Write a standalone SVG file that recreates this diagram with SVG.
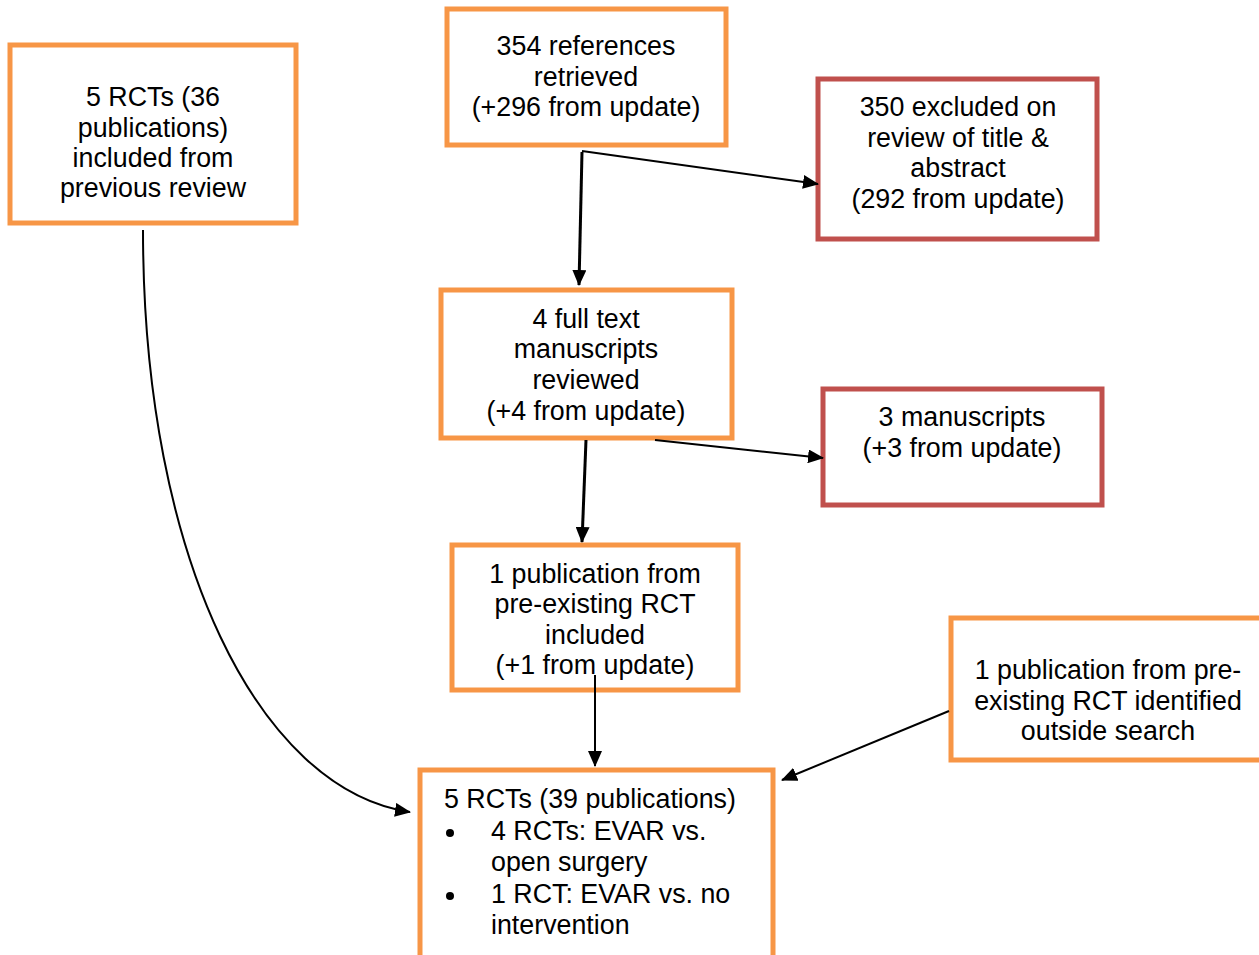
<svg xmlns="http://www.w3.org/2000/svg" width="1259" height="955" viewBox="0 0 1259 955">
<style>
.o{fill:#fff;stroke:#F79646;stroke-width:5}
.r{fill:#fff;stroke:#C0504D;stroke-width:5}
text{font-family:"Liberation Sans",Arial,sans-serif;font-size:26.8px;fill:#000}
.c{text-anchor:middle}
.ln{fill:none;stroke:#000;stroke-width:2}
.tk{stroke-width:3}
</style>
<defs>
<marker id="ah" markerUnits="userSpaceOnUse" markerWidth="16" markerHeight="14" refX="15" refY="7" orient="auto">
<path d="M0,0 L16,7 L0,14 Z" fill="#000"/>
</marker>
</defs>
<rect width="1259" height="955" fill="#fff"/>
<g id="n-prev">
<rect class="o" x="10" y="45" width="286" height="178"/>
<text class="c" x="153" y="106">5 RCTs (36</text>
<text class="c" x="153" y="137">publications)</text>
<text class="c" x="153" y="167">included from</text>
<text class="c" x="153" y="197">previous review</text>
</g>
<g id="n-refs">
<rect class="o" x="447" y="9" width="279" height="136"/>
<text class="c" x="586" y="55">354 references</text>
<text class="c" x="586" y="86">retrieved</text>
<text class="c" x="586" y="116">(+296 from update)</text>
</g>
<g id="n-excl1">
<rect class="r" x="818" y="79" width="279" height="160"/>
<text class="c" x="958" y="116">350 excluded on</text>
<text class="c" x="958" y="147">review of title &amp;</text>
<text class="c" x="958" y="177">abstract</text>
<text class="c" x="958" y="208">(292 from update)</text>
</g>
<g id="n-full">
<rect class="o" x="441" y="290" width="291" height="148"/>
<text class="c" x="586" y="328">4 full text</text>
<text class="c" x="586" y="358">manuscripts</text>
<text class="c" x="586" y="389">reviewed</text>
<text class="c" x="586" y="420">(+4 from update)</text>
</g>
<g id="n-excl2">
<rect class="r" x="823" y="389" width="279" height="116"/>
<text class="c" x="962" y="426">3 manuscripts</text>
<text class="c" x="962" y="457">(+3 from update)</text>
</g>
<g id="n-pub">
<rect class="o" x="452" y="545" width="286" height="145"/>
<text class="c" x="595" y="583">1 publication from</text>
<text class="c" x="595" y="613">pre-existing RCT</text>
<text class="c" x="595" y="644">included</text>
<text class="c" x="595" y="674">(+1 from update)</text>
</g>
<g id="n-outside">
<rect class="o" x="951" y="618" width="312" height="142"/>
<text class="c" x="1108" y="679">1 publication from pre-</text>
<text class="c" x="1108" y="710">existing RCT identified</text>
<text class="c" x="1108" y="740">outside search</text>
</g>
<g id="n-final">
<rect class="o" x="420" y="770" width="353" height="190"/>
<text x="444" y="808">5 RCTs (39 publications)</text>
<circle cx="450" cy="833" r="4"/>
<text x="491" y="840">4 RCTs: EVAR vs.</text>
<text x="491" y="871">open surgery</text>
<circle cx="450" cy="896" r="4"/>
<text x="491" y="903">1 RCT: EVAR vs. no</text>
<text x="491" y="934">intervention</text>
</g>
<g id="connectors">
<path class="ln tk" d="M582,152 L579,285" marker-end="url(#ah)"/>
<path class="ln" d="M582,151 L818,184" marker-end="url(#ah)"/>
<path class="ln tk" d="M586,440 L582,542" marker-end="url(#ah)"/>
<path class="ln" d="M655,440 L823,458" marker-end="url(#ah)"/>
<path class="ln" d="M595,675 L595,766" marker-end="url(#ah)"/>
<path class="ln" d="M949,711 L782,780" marker-end="url(#ah)"/>
<path class="ln" d="M143,230 C143,560 260,790 410,812" marker-end="url(#ah)"/>
</g>
</svg>
